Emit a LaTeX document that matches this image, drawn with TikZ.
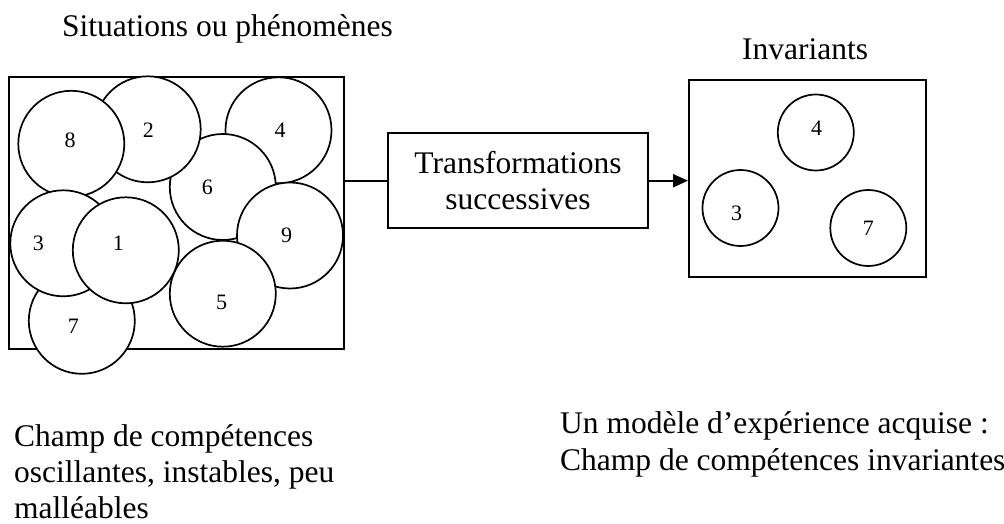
\documentclass[tikz,border=0pt]{standalone}
\usepackage{fontspec}
\setmainfont{Liberation Serif}
\usetikzlibrary{arrows.meta}

\begin{document}
\begin{tikzpicture}[x=1pt,y=-1pt,
  frame/.style={draw, line width=2pt, fill=white, inner sep=0pt},
  disc/.style={circle, draw, line width=1.7pt, fill=white, inner sep=0pt, minimum size=106pt},
  smalldisc/.style={disc, minimum size=76pt},
  num/.style={inner sep=0pt, font=\fontsize{22}{26}\selectfont},
  caption/.style={inner sep=0pt, anchor=base west, align=left, font=\fontsize{31.5}{36}\selectfont},
  link/.style={line width=2pt}
]
\useasboundingbox (0,0) rectangle (1004,524);

% left frame with overlapping situations
\node[frame, minimum width=335pt, minimum height=272pt] (field) at (176.5,213.3) {};
\node[disc] (c4) at (278.5,130.3) {};
\node[disc] (c6) at (222.8,187) {};
\node[disc] (c9) at (290,235.5) {};
\node[disc] (c5) at (222.8,293.7) {};
\node[disc] (c2) at (147.7,129.3) {};
\node[disc] (c8) at (71.3,143.8) {};
\node[disc] (c7) at (81.8,320.8) {};
\node[disc] (c3) at (63.3,243.3) {};
\node[disc] (c1) at (125.8,250.3) {};
\node[num] (n8) at (70,140) {8};
\node[num] (n2) at (148.3,130) {2};
\node[num] (n4) at (280,130) {4};
\node[num] (n6) at (207.3,187.3) {6};
\node[num] (n3) at (38.3,243.3) {3};
\node[num] (n1) at (118.3,243.3) {1};
\node[num] (n9) at (286.7,235) {9};
\node[num] (n5) at (221.7,302.7) {5};
\node[num] (n7) at (73.3,326.7) {7};

% middle step
\node[frame, minimum width=260pt, minimum height=95pt, align=center,
      font=\fontsize{31.5}{36.7}\selectfont] (trans) at (518,180.7) {Transformations\\successives};

% right frame with the invariants
\node[frame, minimum width=237pt, minimum height=196.7pt] (inv) at (807.5,178.3) {};
\node[smalldisc] (r4) at (815.8,132.5) {};
\node[smalldisc] (r3) at (740.5,208) {};
\node[smalldisc] (r7) at (868.3,228) {};
\node[num] (m4) at (816.7,128.3) {4};
\node[num] (m3) at (736.7,213.3) {3};
\node[num] (m7) at (868.3,228.3) {7};

% connectors
\draw[link] (trans.west -| field.east) -- (trans.west);
\draw[link, -{Triangle[length=15pt,width=13pt]}] (trans.east) -- (trans.east -| inv.west);

% captions (multi-line ones are anchored on the baseline of their last line)
\node[caption] (tsit) at (62,36.7) {Situations ou phénomènes};
\node[caption] (tinv) at (742,60) {Invariants};
\node[caption] (tleft) at (14,518.3) {Champ de compétences\\oscillantes, instables, peu\\malléables};
\node[caption, font=\fontsize{31.5}{36.7}\selectfont] (tright) at (560,470) {Un modèle d’expérience acquise :\\Champ de compétences invariantes};
\end{tikzpicture}
\end{document}
